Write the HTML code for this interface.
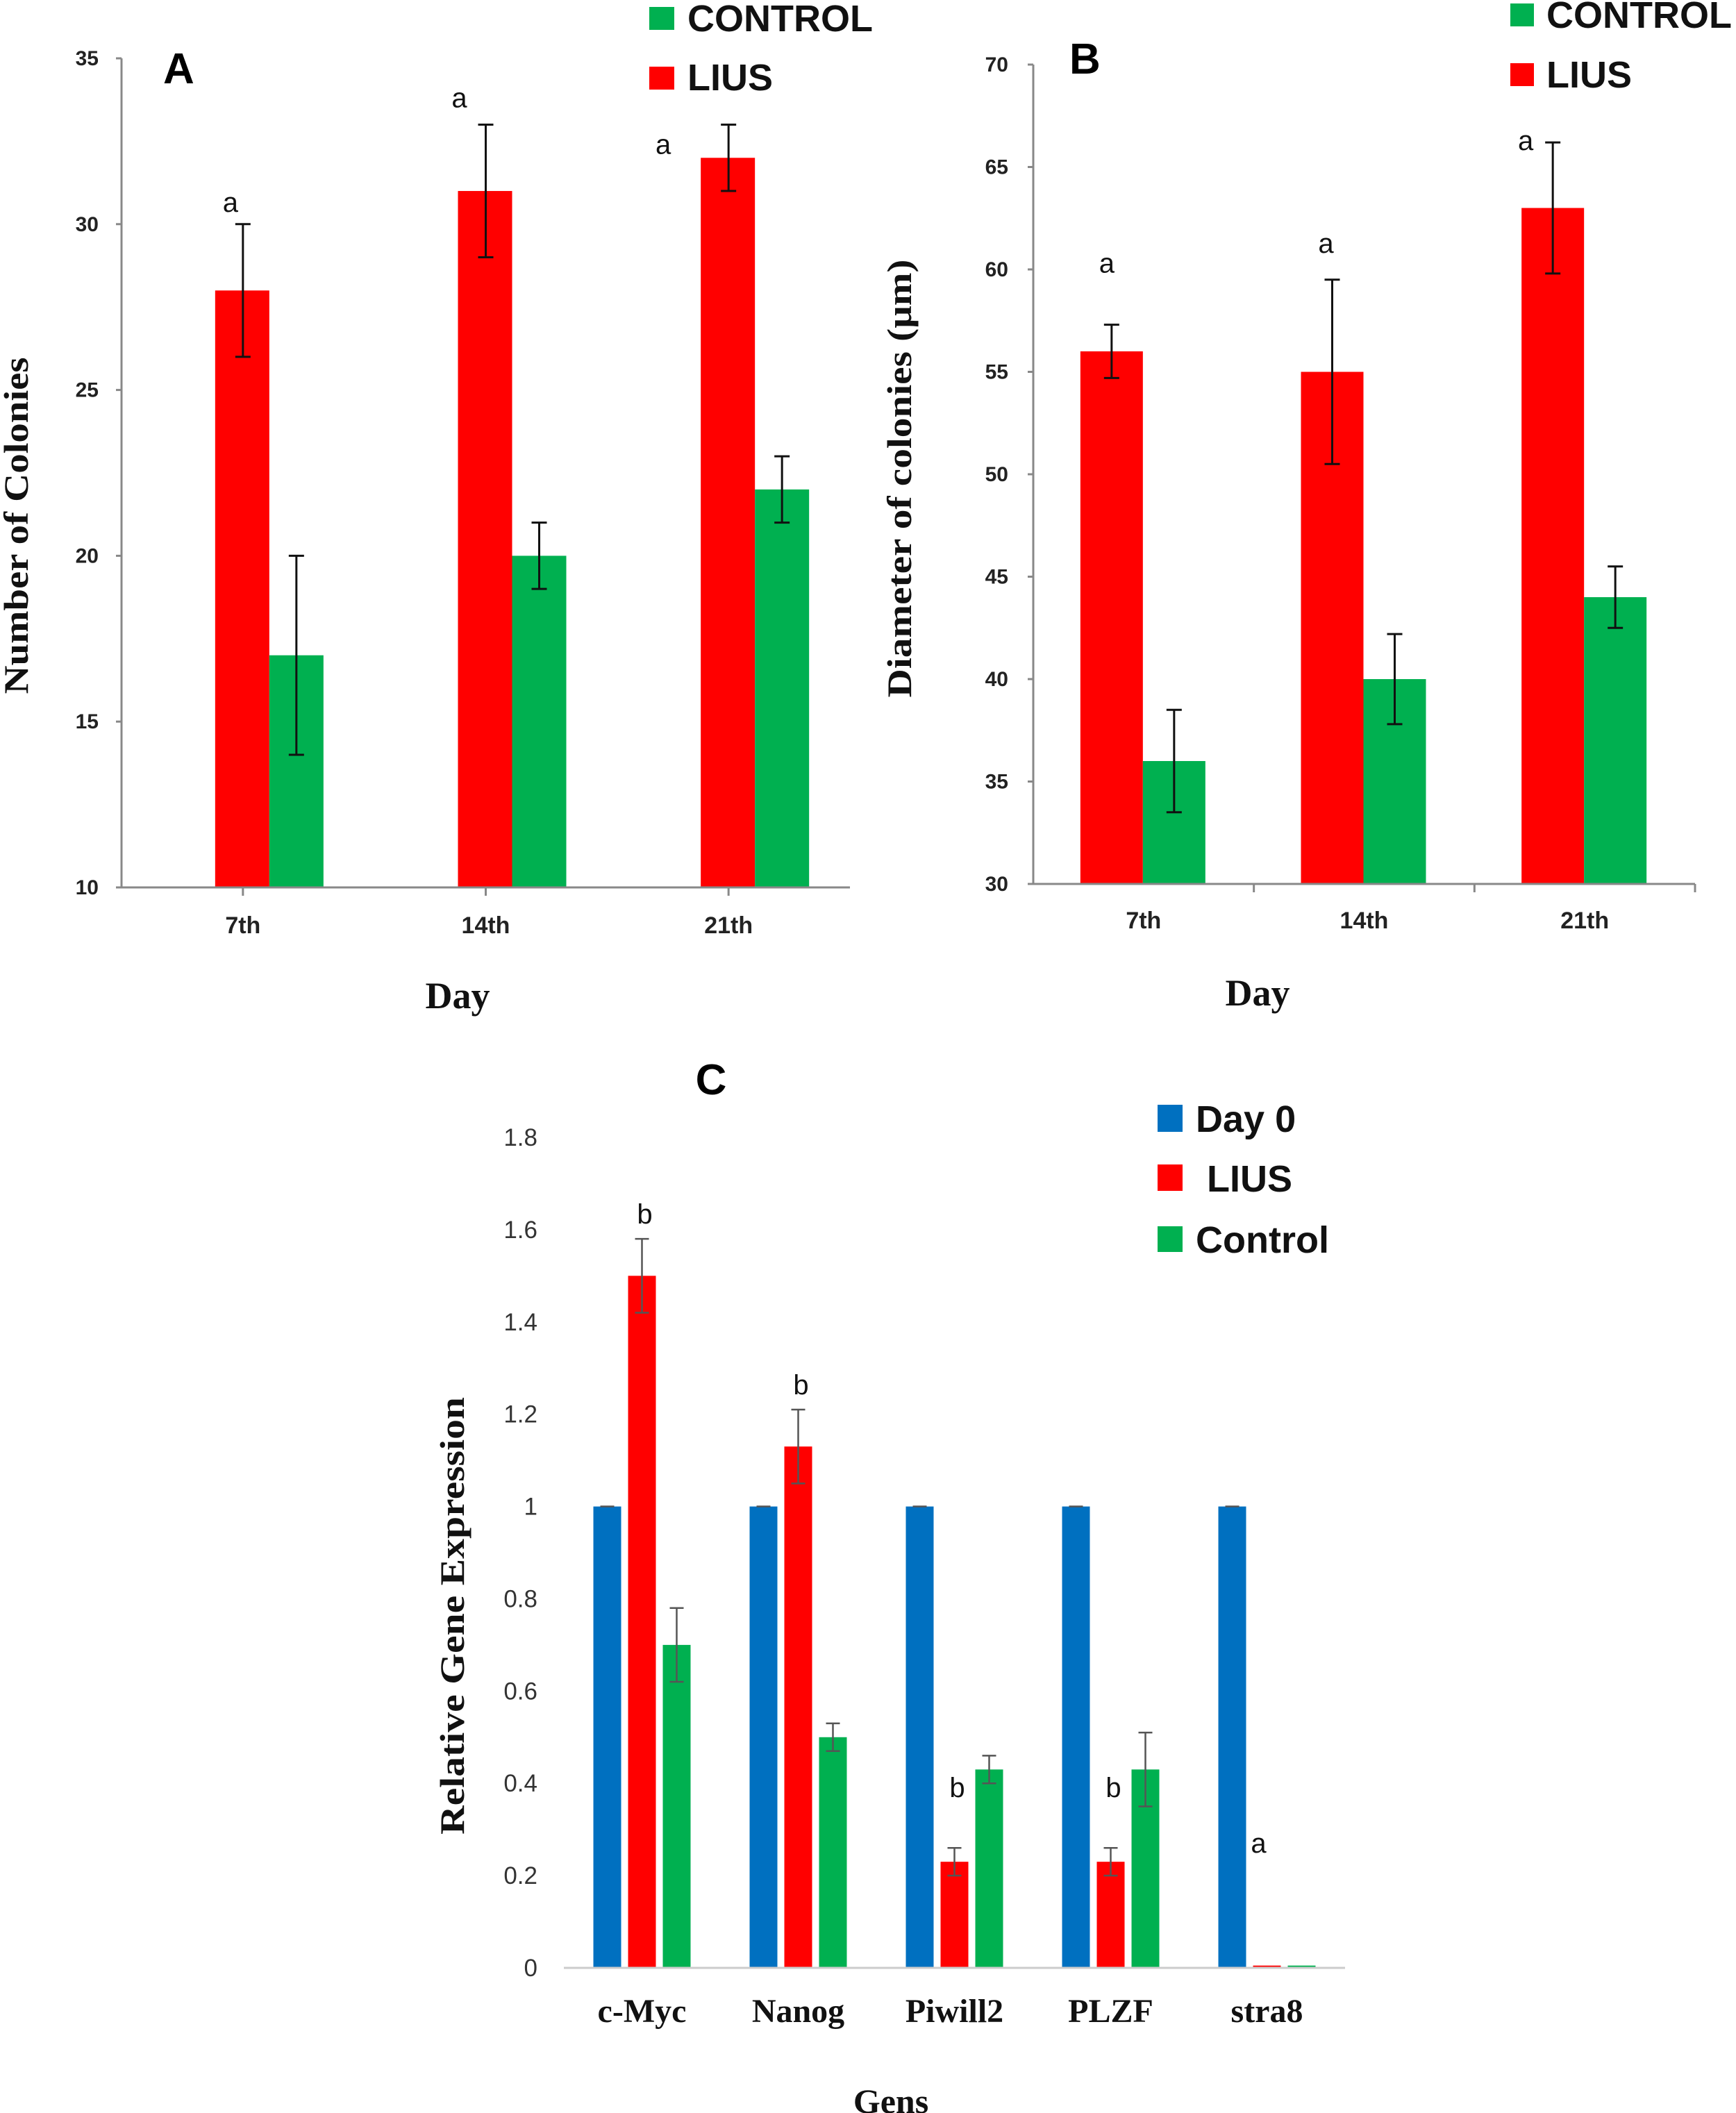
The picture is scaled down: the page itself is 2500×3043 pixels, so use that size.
<!DOCTYPE html>
<html><head><meta charset="utf-8">
<style>
html,body{margin:0;padding:0;background:#fff;}
svg{display:block;}
.tick{font-family:"Liberation Sans",sans-serif;font-weight:bold;font-size:30px;fill:#222;}
.tickc{font-family:"Liberation Sans",sans-serif;font-size:35px;fill:#333;}
.cat{font-family:"Liberation Sans",sans-serif;font-weight:bold;font-size:34px;fill:#222;}
.serif{font-family:"Liberation Serif",serif;font-weight:bold;fill:#111;}
.leg{font-family:"Liberation Sans",sans-serif;font-weight:bold;font-size:54px;fill:#111;}
.lbl{font-family:"Liberation Sans",sans-serif;font-size:40px;fill:#111;}
</style></head>
<body>
<svg id="fig" width="2500" height="3043" viewBox="0 0 2500 3043" xmlns="http://www.w3.org/2000/svg">
<text x="235" y="120" font-family="Liberation Sans,sans-serif" font-weight="bold" font-size="62">A</text>
<rect x="935" y="10" width="36" height="33" fill="#00B050"/>
<text class="leg" x="990" y="45">CONTROL</text>
<rect x="935" y="96" width="36" height="33" fill="#FF0000"/>
<text class="leg" x="990" y="130">LIUS</text>
<text class="serif" font-size="54" x="659" y="1452" text-anchor="middle">Day</text>
<text class="serif" font-size="50" transform="translate(40,757) rotate(-90)" text-anchor="middle" textLength="485" lengthAdjust="spacingAndGlyphs">Number of Colonies</text>
<text x="1540" y="106" font-family="Liberation Sans,sans-serif" font-weight="bold" font-size="62">B</text>
<rect x="2175" y="5" width="34" height="33" fill="#00B050"/>
<text class="leg" x="2227" y="40">CONTROL</text>
<rect x="2175" y="91" width="34" height="33" fill="#FF0000"/>
<text class="leg" x="2227" y="126">LIUS</text>
<text class="serif" font-size="54" x="1811" y="1448" text-anchor="middle">Day</text>
<text class="serif" font-size="50" transform="translate(1312,689) rotate(-90)" text-anchor="middle" textLength="631" lengthAdjust="spacingAndGlyphs">Diameter of colonies (μm)</text>
<text x="1024" y="1576" text-anchor="middle" font-family="Liberation Sans,sans-serif" font-weight="bold" font-size="62">C</text>
<rect x="1667" y="1591" width="36" height="39" fill="#0070C0"/>
<text class="leg" x="1722" y="1630">Day 0</text>
<rect x="1667" y="1677" width="36" height="38" fill="#FF0000"/>
<text class="leg" x="1738" y="1716">LIUS</text>
<rect x="1667" y="1766" width="36" height="37" fill="#00B050"/>
<text class="leg" x="1722" y="1804">Control</text>
<text class="serif" font-size="50" x="1283" y="3043" text-anchor="middle">Gens</text>
<text class="serif" font-size="50" transform="translate(668,2327) rotate(-90)" text-anchor="middle" textLength="630" lengthAdjust="spacingAndGlyphs">Relative Gene Expression</text>
<g id="dyn"></g>
</svg>
<script>
const aCategories = ["7th","14th","21th"];
const aLius = [28,31,32];
const aLiusErr = [2,2,1];
const aControl = [17,20,22];
const aControlErr = [3,1,1];
const aTicks = [10,15,20,25,30,35];
const aSig = ["a","a","a"];
const bCategories = ["7th","14th","21th"];
const bLius = [56,55,63];
const bLiusErr = [1.3,4.5,3.2];
const bControl = [36,40,44];
const bControlErr = [2.5,2.2,1.5];
const bTicks = [30,35,40,45,50,55,60,65,70];
const bSig = ["a","a","a"];
const cCategories = ["c-Myc","Nanog","Piwill2","PLZF","stra8"];
const cDay0 = [1,1,1,1,1];
const cLius = [1.5,1.13,0.23,0.23,0.005];
const cLiusErr = [0.08,0.08,0.03,0.03,0];
const cControl = [0.7,0.5,0.43,0.43,0.005];
const cControlErr = [0.08,0.03,0.03,0.08,0];
const cTicks = ["0","0.2","0.4","0.6","0.8","1","1.2","1.4","1.6","1.8"];
const cSig = ["b","b","b","b","a"];

const NS="http://www.w3.org/2000/svg";
const dyn=document.getElementById('dyn');
function mk(tag,attrs){const e=document.createElementNS(NS,tag);for(const k in attrs)e.setAttribute(k,attrs[k]);dyn.appendChild(e);return e;}
function errBar(x,ytop,ybot,hw,color,w,name){
  let l=mk('line',{x1:x,x2:x,y1:ytop,y2:ybot,stroke:color,'stroke-width':w});
  
  
  let c1=mk('line',{x1:x-hw,x2:x+hw,y1:ytop,y2:ytop,stroke:color,'stroke-width':w});
  
  
  let c2=mk('line',{x1:x-hw,x2:x+hw,y1:ybot,y2:ybot,stroke:color,'stroke-width':w});
  
  
}

(function(){
  const x0=175,x1=1224,yMin=10,yMax=35,yT=84,yB=1278;
  const ys=v=>yB-(v-yMin)/(yMax-yMin)*(yB-yT);
  const bw=(x1-x0)/aCategories.length;
  const xc=i=>x0+bw*(i+0.5);
  const ldx=[-18,-38,-94], ldy=[-18,-25,42];
  let ax=mk('line',{x1:x0,x2:x0,y1:yT,y2:yB,stroke:'#888','stroke-width':3});
  
  
  aTicks.forEach(t=>{
    let tk=mk('line',{x1:x0-8,x2:x0,y1:ys(t),y2:ys(t),stroke:'#888','stroke-width':3});
    
    
    let tx=mk('text',{x:142,y:ys(t)+10,'text-anchor':'end',class:'tick'});tx.textContent=t;
    
    
  });
  aCategories.forEach((c,i)=>{
    const cx=xc(i);
    let r=mk('rect',{x:cx-40,y:ys(aLius[i]),width:78,height:yB-ys(aLius[i]),fill:'#FF0000'});
    
    
    let g=mk('rect',{x:cx+38,y:ys(aControl[i]),width:78,height:yB-ys(aControl[i]),fill:'#00B050'});
    
    
    errBar(cx,ys(aLius[i]+aLiusErr[i]),ys(aLius[i]-aLiusErr[i]),11,'#111',3,'a-error-lius');
    errBar(cx+77,ys(aControl[i]+aControlErr[i]),ys(aControl[i]-aControlErr[i]),11,'#111',3,'a-error-control');
    let s=mk('text',{x:cx+ldx[i],y:ys(aLius[i]+aLiusErr[i])+ldy[i],'text-anchor':'middle',class:'lbl'});s.textContent=aSig[i];
    
    
    let tk=mk('line',{x1:cx,x2:cx,y1:yB,y2:yB+12,stroke:'#888','stroke-width':3});
    
    
    let t=mk('text',{x:cx,y:1344,'text-anchor':'middle',class:'cat'});t.textContent=c;
    
    
  });
  let xa=mk('line',{x1:x0,x2:x1,y1:yB,y2:yB,stroke:'#888','stroke-width':3});
  
  
})();

(function(){
  const x0=1488,x1=2441,yMin=30,yMax=70,yT=93,yB=1273;
  const ys=v=>yB-(v-yMin)/(yMax-yMin)*(yB-yT);
  const bw=(x1-x0)/bCategories.length;
  const xc=i=>x0+bw*(i+0.5);
  const ldx=[-53,-55,-85], ldy=[-75,-39,11];
  let ax=mk('line',{x1:x0,x2:x0,y1:yT,y2:yB,stroke:'#888','stroke-width':3});
  
  
  bTicks.forEach(t=>{
    let tk=mk('line',{x1:x0-8,x2:x0,y1:ys(t),y2:ys(t),stroke:'#888','stroke-width':3});
    
    
    let tx=mk('text',{x:1452,y:ys(t)+10,'text-anchor':'end',class:'tick'});tx.textContent=t;
    
    
  });
  for(let i=1;i<=bCategories.length;i++){
    const tx=x0+bw*i;
    let tk=mk('line',{x1:tx,x2:tx,y1:yB,y2:yB+12,stroke:'#888','stroke-width':3});
    
    
  }
  bCategories.forEach((c,i)=>{
    const cx=xc(i);
    let r=mk('rect',{x:cx-91,y:ys(bLius[i]),width:90,height:yB-ys(bLius[i]),fill:'#FF0000'});
    
    
    let g=mk('rect',{x:cx-1,y:ys(bControl[i]),width:90,height:yB-ys(bControl[i]),fill:'#00B050'});
    
    
    errBar(cx-46,ys(bLius[i]+bLiusErr[i]),ys(bLius[i]-bLiusErr[i]),11,'#111',3,'b-error-lius');
    errBar(cx+44,ys(bControl[i]+bControlErr[i]),ys(bControl[i]-bControlErr[i]),11,'#111',3,'b-error-control');
    let s=mk('text',{x:cx+ldx[i],y:ys(bLius[i]+bLiusErr[i])+ldy[i],'text-anchor':'middle',class:'lbl'});s.textContent=bSig[i];
    
    
    let t=mk('text',{x:cx,y:1337,'text-anchor':'middle',class:'cat'});t.textContent=c;
    
    
  });
  let xa=mk('line',{x1:x0,x2:x1,y1:yB,y2:yB,stroke:'#888','stroke-width':3});
  
  
})();

(function(){
  const x0=812,x1=1937,yMin=0,yMax=1.8,yT=1638,yB=2834;
  const ys=v=>yB-(v-yMin)/(yMax-yMin)*(yB-yT);
  const bw=(x1-x0)/cCategories.length;
  const xc=i=>x0+bw*(i+0.5);
  cTicks.forEach(t=>{
    let tx=mk('text',{x:774,y:ys(parseFloat(t))+12,'text-anchor':'end',class:'tickc'});tx.textContent=t;
    
    
  });
  cCategories.forEach((c,i)=>{
    const cx=xc(i);
    const series=[[cDay0,null,'#0070C0','day0',-50],[cLius,cLiusErr,'#FF0000','lius',0],[cControl,cControlErr,'#00B050','control',50]];
    series.forEach(([vals,errs,col,nm,off])=>{
      const v=vals[i];
      let r=mk('rect',{x:cx+off-20,y:ys(v),width:40,height:yB-ys(v),fill:col});
      
      
      if(errs&&errs[i]>0) errBar(cx+off,ys(v+errs[i]),ys(v-errs[i]),10,'#555',2.5,'c-error-'+nm);
      if(!errs){
        let cap=mk('line',{x1:cx+off-10,x2:cx+off+10,y1:ys(v),y2:ys(v),stroke:'#555','stroke-width':2.5});
        
        
      }
    });
    let ly = cLiusErr[i]>0 ? ys(cLius[i]+cLiusErr[i])-22 : ys(0.25);
    if(i==2||i==3) ly=ys(0.4)+20;
    let lx = (i==2||i==3)? cx+4 : (i==4? cx-12 : cx+4);
    let s=mk('text',{x:lx,y:ly,'text-anchor':'middle',class:'lbl'});s.textContent=cSig[i];
    
    
    let t=mk('text',{x:cx,y:2912,'text-anchor':'middle',class:'serif','font-size':'48'});t.textContent=c;
    
    
  });
  let xa=mk('line',{x1:x0,x2:x1,y1:yB,y2:yB,stroke:'#ccc','stroke-width':3});
  
  
})();
</script>
</body></html>
